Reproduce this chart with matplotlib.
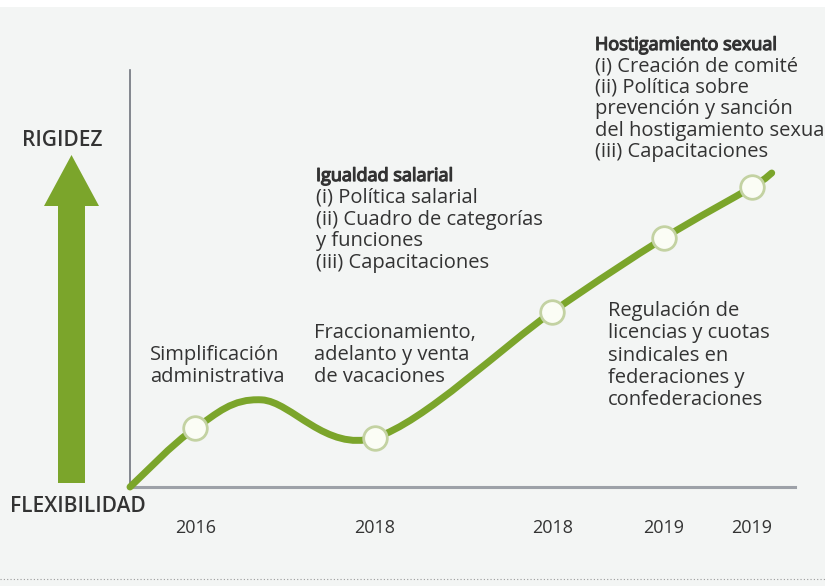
import numpy as np
import matplotlib.pyplot as plt
import matplotlib.patheffects as pe
from matplotlib.path import Path
from matplotlib.patches import PathPatch, Polygon, Rectangle

# curve knots (x = position along timeline, y = rigidity level, axis units 0-10)
curve_x = [0.0, 0.98, 1.98, 3.68, 6.35, 8.03, 9.35, 9.65]
curve_y = [0.0, 1.41, 2.09, 1.18, 4.20, 5.97, 7.19, 7.53]
marker_idx = [1, 3, 4, 5, 6]
years = ["2016", "2018", "2018", "2019", "2019"]

labels = [
    # (left px, first line px, line step px, lines, bold first line)
    (595, 45, 21.4, ["Hostigamiento sexual", "(i) Creación de comité", "(ii) Política sobre",
                     "prevención y sanción", "del hostigamiento sexua", "(iii) Capacitaciones"], True),
    (316, 176, 21.8, ["Igualdad salarial", "(i) Política salarial", "(ii) Cuadro de categorías",
                      "y funciones", "(iii) Capacitaciones"], True),
    (150, 355, 22, ["Simplificación", "administrativa"], False),
    (314, 333, 22, ["Fraccionamiento,", "adelanto y venta", "de vacaciones"], False),
    (608, 311, 22.3, ["Regulación de", "licencias y cuotas", "sindicales en",
                      "federaciones y", "confederaciones"], False),
]

green = "#7ba52b"
text_col = "#333333"
bg_col = "#f3f5f4"
font = ["Open Sans", "DejaVu Sans"]


def smooth_path(xs, ys):
    # Catmull-Rom knots turned into cubic Bezier segments
    p = np.column_stack([xs, ys])
    p = np.vstack([p[0], p, p[-1]])
    verts = [p[1]]
    codes = [Path.MOVETO]
    for i in range(1, len(p) - 2):
        c1 = p[i] + (p[i + 1] - p[i - 1]) / 6
        c2 = p[i + 1] - (p[i + 2] - p[i]) / 6
        verts += [c1, c2, p[i + 1]]
        codes += [Path.CURVE4] * 3
    return Path(verts, codes)


fig = plt.figure(figsize=(8.25, 5.86), dpi=100)
fig.patch.set_facecolor(bg_col)

bg = fig.add_axes([0, 0, 1, 1])
bg.set_xlim(0, 825)
bg.set_ylim(586, 0)
bg.axis("off")
bg.add_patch(Rectangle((0, 0), 825, 7, color="white", lw=0))
bg.plot([0, 825], [579, 579], ls=(0, (1, 2)), color="#9a9a9a", lw=0.8)

# big arrow on the left
arrow = Polygon([(58, 483), (85, 483), (85, 206), (99, 206), (71.5, 155), (44, 206), (58, 206)],
                closed=True, color=green, lw=0)
bg.add_patch(arrow)
bg.text(62, 141, "RIGIDEZ", ha="center", va="center", fontsize=15, fontweight="semibold",
        color=text_col, family=font)
bg.text(78, 507, "FLEXIBILIDAD", ha="center", va="center", fontsize=15, fontweight="semibold",
        color=text_col, family=font)

heavy = [pe.withStroke(linewidth=0.9, foreground=text_col)]
for x0, y0, step, lines, bold in labels:
    for k, line in enumerate(lines):
        head = bold and k == 0
        bg.text(x0, y0 + k * step, line, ha="left", va="center", fontsize=13 if head else 14.5,
                color=text_col, family=font, path_effects=heavy if head else None)

ax = fig.add_axes([130 / 825, (586 - 487) / 586, 665 / 825, 417 / 586])
ax.set_xlim(0, 10)
ax.set_ylim(0, 10)
ax.patch.set_alpha(0)
for s in ["top", "right"]:
    ax.spines[s].set_visible(False)
ax.spines["left"].set_color("#6f747c")
ax.spines["left"].set_linewidth(1.2)
ax.spines["bottom"].set_color("#9da1a8")
ax.spines["bottom"].set_linewidth(2.2)
ax.set_yticks([])
mx = [curve_x[i] for i in marker_idx]
my = [curve_y[i] for i in marker_idx]
ax.set_xticks(mx, years)
ax.tick_params(axis="x", length=0, pad=23, labelsize=13, labelcolor=text_col)
for t in ax.get_xticklabels():
    t.set_family(font)

ax.add_patch(PathPatch(smooth_path(curve_x, curve_y), fill=False, ec=green, lw=5,
                       capstyle="round", clip_on=False, zorder=3))
ax.plot(mx, my, "o", ms=17, mfc="#fbfdf5", mec="#c3d2a2", mew=2, clip_on=False, zorder=4)

fig.savefig("out.png", dpi=100, facecolor=fig.get_facecolor())
